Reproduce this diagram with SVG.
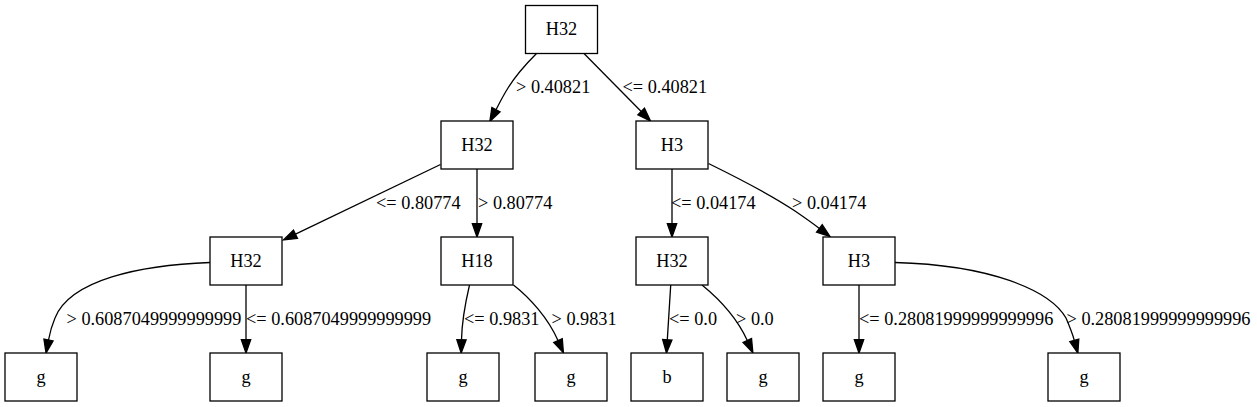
<svg xmlns="http://www.w3.org/2000/svg" width="1257" height="407" viewBox="0 0 1257 407">
<style>
.node rect{fill:#fff;stroke:#000;stroke-width:1.3}
.node text{font-family:"Liberation Serif","Times New Roman",serif;font-size:18.3px;text-anchor:middle;fill:#000}
.edge path{fill:none;stroke:#000;stroke-width:1.3}
.lbl{font-family:"Liberation Serif","Times New Roman",serif;font-size:18.3px;fill:#000}
</style>
<defs>
<marker id="arr" markerUnits="userSpaceOnUse" viewBox="-1 -6 16 12" refX="0" refY="0" markerWidth="16" markerHeight="12" orient="auto" overflow="visible">
<path d="M0,-4.67 L13.33,0 L0,4.67 z" fill="#000" stroke="#000" stroke-width="1.3"/>
</marker>
</defs>
<rect width="1257" height="407" fill="#fff"/>
<g id="connectors" class="edge">
<path d="M536.5,53.5 C527,63 516,75 508,88 C503.5,95 499.5,103 496,109.7" marker-end="url(#arr)"/>
<path d="M584,53.5 L641.2,111.5" marker-end="url(#arr)"/>
<path d="M440.5,164.5 L295.5,234.2" marker-end="url(#arr)"/>
<path d="M477,169 L477,223.7" marker-end="url(#arr)"/>
<path d="M672,169 L672,223.7" marker-end="url(#arr)"/>
<path d="M708.5,163.5 C738,178 770,194 795,211 C803,216.5 811,222 819.4,228.4" marker-end="url(#arr)"/>
<path d="M210,262.5 C140,265 70,280 55,318 C52,325 50,332 48.5,340" marker-end="url(#arr)"/>
<path d="M246,285 L246,339.7" marker-end="url(#arr)"/>
<path d="M469.5,285 C466,300 462,318 461.5,339.7" marker-end="url(#arr)"/>
<path d="M513.5,285 C530,298 548,318 558,340.5" marker-end="url(#arr)"/>
<path d="M670.7,285 L667.3,339.7" marker-end="url(#arr)"/>
<path d="M702,285 C718,298 737,318 747.3,340.5" marker-end="url(#arr)"/>
<path d="M859,285 L859,339.7" marker-end="url(#arr)"/>
<path d="M895,262.5 C990,265 1050,290 1066,318 C1069,325 1072,332 1074.3,340.3" marker-end="url(#arr)"/>
<text class="lbl" x="516" y="92.5">&gt; 0.40821</text>
<text class="lbl" x="622.5" y="92.5">&lt;= 0.40821</text>
<text class="lbl" x="376" y="208.5">&lt;= 0.80774</text>
<text class="lbl" x="478" y="208.5">&gt; 0.80774</text>
<text class="lbl" x="671" y="208.5">&lt;= 0.04174</text>
<text class="lbl" x="792" y="208.5">&gt; 0.04174</text>
<text class="lbl" x="66.5" y="324.5">&gt; 0.6087049999999999</text>
<text class="lbl" x="246" y="324.5">&lt;= 0.6087049999999999</text>
<text class="lbl" x="464" y="324.5">&lt;= 0.9831</text>
<text class="lbl" x="551.5" y="324.5">&gt; 0.9831</text>
<text class="lbl" x="669" y="324.5">&lt;= 0.0</text>
<text class="lbl" x="736" y="324.5">&gt; 0.0</text>
<text class="lbl" x="859" y="324.5">&lt;= 0.28081999999999996</text>
<text class="lbl" x="1066.5" y="324.5">&gt; 0.28081999999999996</text>
</g>
<g id="n0" class="node"><rect x="525.5" y="5.5" width="72" height="48"/><text x="561.5" y="35">H32</text></g>
<g id="n1" class="node"><rect x="441" y="121" width="72" height="48"/><text x="477" y="151">H32</text></g>
<g id="n2" class="node"><rect x="636" y="121" width="72" height="48"/><text x="672" y="151">H3</text></g>
<g id="n3" class="node"><rect x="210" y="237" width="72" height="48"/><text x="246" y="267">H32</text></g>
<g id="n4" class="node"><rect x="441" y="237" width="72" height="48"/><text x="477" y="267">H18</text></g>
<g id="n5" class="node"><rect x="636" y="237" width="72" height="48"/><text x="672" y="267">H32</text></g>
<g id="n6" class="node"><rect x="823" y="237" width="72" height="48"/><text x="859" y="267">H3</text></g>
<g id="n7" class="node"><rect x="5" y="353" width="72" height="48"/><text x="41" y="383">g</text></g>
<g id="n8" class="node"><rect x="210" y="353" width="72" height="48"/><text x="246" y="383">g</text></g>
<g id="n9" class="node"><rect x="427" y="353" width="72" height="48"/><text x="463" y="383">g</text></g>
<g id="n10" class="node"><rect x="535" y="353" width="72" height="48"/><text x="571" y="383">g</text></g>
<g id="n11" class="node"><rect x="631" y="353" width="72" height="48"/><text x="667" y="383">b</text></g>
<g id="n12" class="node"><rect x="727" y="353" width="72" height="48"/><text x="763" y="383">g</text></g>
<g id="n13" class="node"><rect x="823" y="353" width="72" height="48"/><text x="859" y="383">g</text></g>
<g id="n14" class="node"><rect x="1048" y="353" width="72" height="48"/><text x="1084" y="383">g</text></g>
</svg>
